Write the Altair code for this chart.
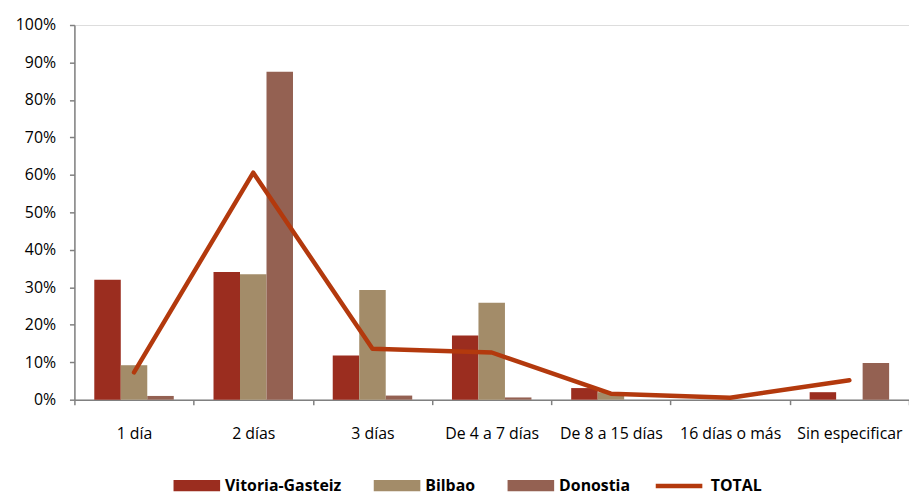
import altair as alt
import pandas as pd

categories = ["1 día", "2 días", "3 días", "De 4 a 7 días", "De 8 a 15 días", "16 días o más", "Sin especificar"]
series = ["Vitoria-Gasteiz", "Bilbao", "Donostia"]
vitoria = [0.320, 0.341, 0.118, 0.171, 0.031, 0.000, 0.020]
bilbao = [0.092, 0.335, 0.293, 0.259, 0.020, 0.000, 0.000]
donostia = [0.010, 0.875, 0.011, 0.006, 0.000, 0.000, 0.098]
total = [0.073, 0.606, 0.136, 0.126, 0.016, 0.005, 0.052]
y_ticks = [0, 0.1, 0.2, 0.3, 0.4, 0.5, 0.6, 0.7, 0.8, 0.9, 1.0]

bar_colors = ["#9B2D1F", "#A38C69", "#946152"]
line_color = "#B3390D"

rows = []
for s, vals in zip(series, [vitoria, bilbao, donostia]):
    for c, v in zip(categories, vals):
        rows.append({"cat": c, "serie": s, "val": v})
bars_df = pd.DataFrame(rows)
line_df = pd.DataFrame({"cat": categories, "val": total, "serie": ["TOTAL"] * len(categories)})

FONT = "Open Sans"

x_axis = alt.Axis(
    title=None, labelAngle=0, tickBand="extent", tickSize=5,
    labelPadding=21, labelFontSize=16, labelFont=FONT, labelColor="#000000",
    labelOverlap=False,
    domainColor="#808080", domainWidth=1.5, tickColor="#808080", tickWidth=1.5,
)
y_axis = alt.Axis(
    title=None, values=y_ticks, format=".0%", grid=False, tickSize=5,
    labelPadding=14, labelFontSize=16, labelFont=FONT, labelColor="#000000",
    labelOverlap=False,
    domainColor="#808080", domainWidth=1.5, tickColor="#808080", tickWidth=1.5,
)
x_scale = alt.Scale(paddingInner=0, paddingOuter=0)
y_scale = alt.Scale(domain=[0, 1], nice=False)

bars = alt.Chart(bars_df).mark_bar().encode(
    x=alt.X("cat:N", sort=categories, scale=x_scale, axis=x_axis),
    y=alt.Y("val:Q", scale=y_scale, axis=y_axis),
    xOffset=alt.XOffset("serie:N", sort=series, scale=alt.Scale(paddingInner=0, paddingOuter=0.75)),
    fill=alt.Fill(
        "serie:N", sort=series,
        scale=alt.Scale(domain=series, range=bar_colors),
        legend=alt.Legend(
            title=None, orient="none", direction="horizontal", legendX=100, legendY=441,
            symbolType="M-1,-0.24H1V0.24H-1Z", symbolSize=2209, symbolStrokeWidth=0,
            labelFont=FONT, labelFontSize=16, labelFontWeight="bold", labelColor="#000000",
            labelOffset=5, columnPadding=32, padding=0,
        ),
    ),
)

line = alt.Chart(line_df).mark_line(strokeWidth=4.5, strokeCap="round", strokeJoin="round").encode(
    x=alt.X("cat:N", sort=categories, scale=x_scale, axis=x_axis),
    y=alt.Y("val:Q", scale=y_scale, axis=y_axis),
    stroke=alt.Stroke(
        "serie:N",
        scale=alt.Scale(domain=["TOTAL"], range=[line_color]),
        legend=alt.Legend(
            title=None, orient="none", direction="horizontal", legendX=584, legendY=439,
            symbolType="stroke", symbolSize=2209, symbolStrokeWidth=4.5,
            labelFont=FONT, labelFontSize=16, labelFontWeight="bold", labelColor="#000000",
            labelOffset=6, padding=0,
        ),
    ),
)

chart = alt.layer(bars, line).resolve_scale(fill="independent", stroke="independent").properties(
    width=842,
    height=378,
    autosize=alt.AutoSizeParams(type="none"),
    padding={"left": 67, "top": 15, "right": 0, "bottom": 96},
).configure_view(stroke=None).configure(background="#ffffff")

chart.save("out.html", embed_options={"renderer": "svg", "actions": False})
